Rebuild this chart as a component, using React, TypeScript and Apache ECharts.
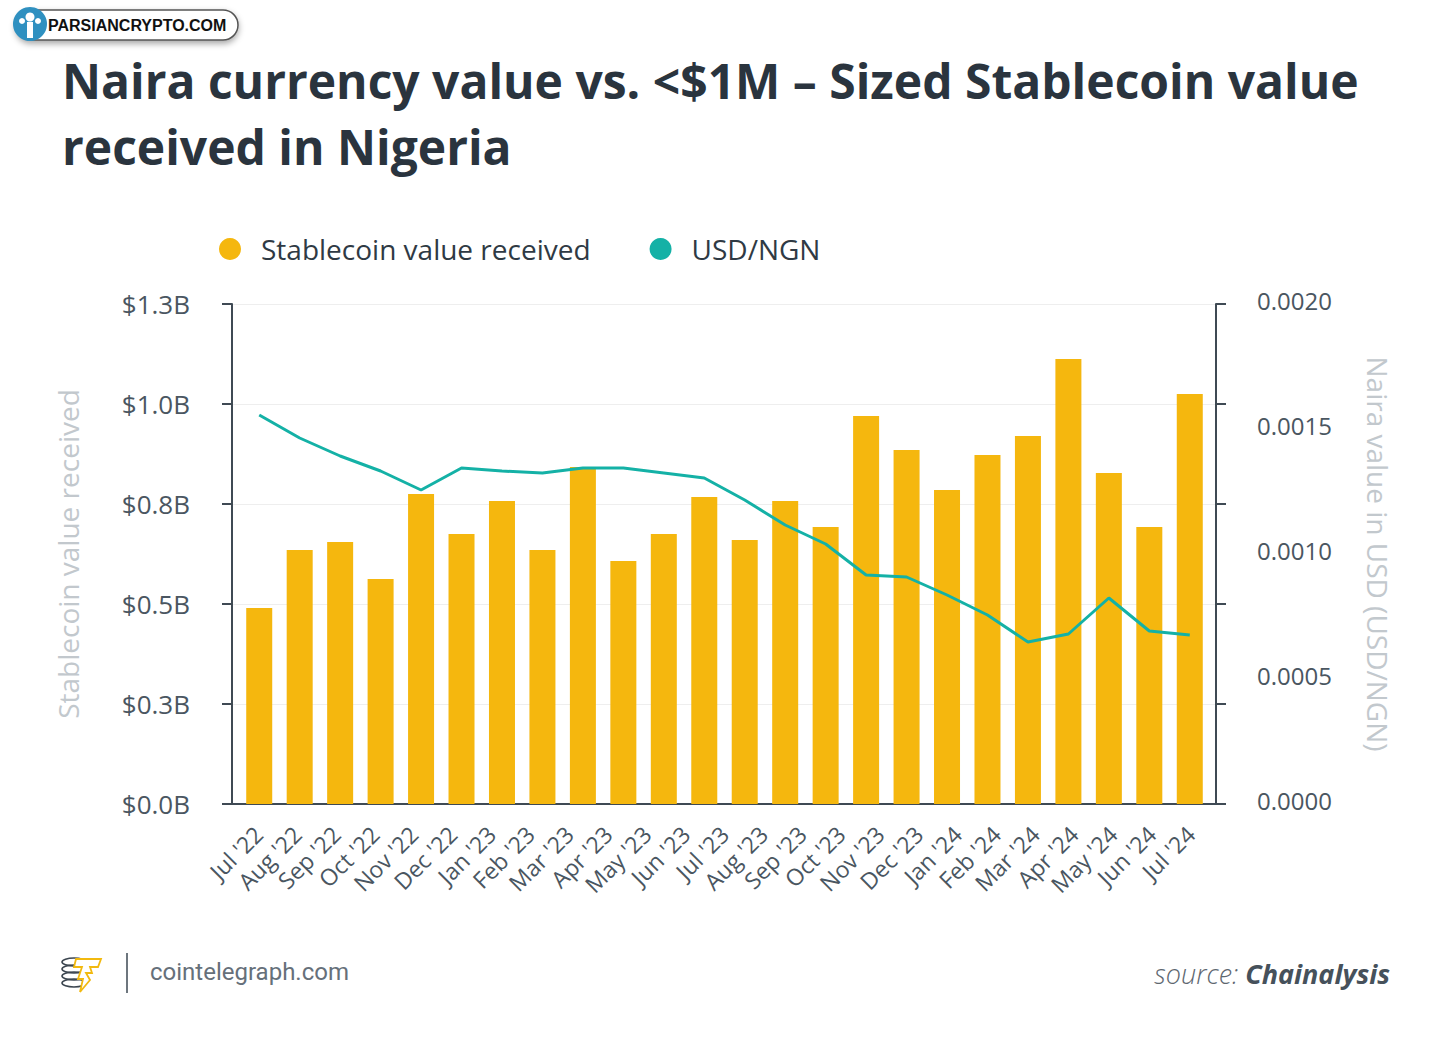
import React, { useEffect, useRef } from "react";
import * as echarts from "echarts";

const months = [
  "Jul '22", "Aug '22", "Sep '22", "Oct '22", "Nov '22", "Dec '22",
  "Jan '23", "Feb '23", "Mar '23", "Apr '23", "May '23", "Jun '23",
  "Jul '23", "Aug '23", "Sep '23", "Oct '23", "Nov '23", "Dec '23",
  "Jan '24", "Feb '24", "Mar '24", "Apr '24", "May '24", "Jun '24", "Jul '24",
];
// 24 bars/points drawn (the source labels 25 months)
const dataMonths = months.slice(0, 24);

const stablecoinValue = [
  0.49, 0.635, 0.655, 0.5625, 0.775, 0.675, 0.7575, 0.635, 0.8425, 0.6075,
  0.675, 0.7675, 0.66, 0.7575, 0.6925, 0.97, 0.885, 0.785, 0.8725, 0.92,
  1.1125, 0.8275, 0.6925, 1.025,
];

const usdNgn = [
  0.001556, 0.001464, 0.001392, 0.001332, 0.001256, 0.001344, 0.001332,
  0.001324, 0.001344, 0.001344, 0.001324, 0.001304, 0.001216, 0.001116,
  0.00104, 0.000916, 0.000908, 0.000836, 0.000756, 0.000648, 0.00068,
  0.000824, 0.000692, 0.000676,
];

const leftTickLabels = ["$0.0B", "$0.3B", "$0.5B", "$0.8B", "$1.0B", "$1.3B"];
const rightTickLabels = ["0.0000", "0.0005", "0.0010", "0.0015", "0.0020"];

const FONT = "'Open Sans', 'Noto Sans', sans-serif";
const AXIS_DARK = "#3f4a54";
const LABEL = "#4a5661";
const NAME_GRAY = "#c2c8cd";
const BAR = "#F5B70E";
const TEAL = "#14B1A6";

export default function App() {
  const ref = useRef<HTMLDivElement>(null);

  useEffect(() => {
    document.body.style.margin = "0";
    if (!ref.current) return;
    const chart = echarts.init(ref.current, undefined, { renderer: "svg" });

    const option: any = {
      animation: false,
      backgroundColor: "#ffffff",
      title: {
        text: "Naira currency value vs. <$1M – Sized Stablecoin value\nreceived in Nigeria",
        left: 57,
        top: 42,
        textStyle: {
          fontFamily: FONT,
          fontSize: 48,
          fontWeight: "bold",
          color: "#2a343e",
          lineHeight: 66,
        },
      },
      legend: {
        left: 214,
        top: 230,
        icon: "circle",
        itemWidth: 22,
        itemHeight: 22,
        itemGap: 59,
        textStyle: { fontFamily: FONT, fontSize: 28, color: "#2f3a44", padding: [0, 0, 0, 15] },
        data: ["Stablecoin value received", "USD/NGN"],
      },
      grid: [
        { left: 232, right: 234, top: 304, bottom: 249, containLabel: false },
        { left: 239, right: 240, top: 304, bottom: 249, containLabel: false },
      ],
      xAxis: [
        {
          gridIndex: 0,
          type: "category",
          data: dataMonths,
          boundaryGap: true,
          axisLine: { show: true, lineStyle: { color: AXIS_DARK, width: 2 } },
          axisTick: { show: false },
          axisLabel: { show: false },
          splitLine: { show: false },
        },
        {
          gridIndex: 1,
          type: "category",
          data: dataMonths,
          boundaryGap: true,
          show: false,
        },
        {
          gridIndex: 1,
          type: "category",
          data: months,
          boundaryGap: true,
          position: "bottom",
          axisLine: { show: false },
          axisTick: { show: false },
          axisLabel: {
            rotate: 45,
            margin: 26,
            fontFamily: FONT,
            fontSize: 23,
            color: LABEL,
            interval: 0,
          },
          splitLine: { show: false },
        },
      ],
      yAxis: [
        {
          gridIndex: 0,
          type: "value",
          min: 0,
          max: 1.25,
          interval: 0.25,
          position: "left",
          name: "Stablecoin value received",
          nameLocation: "middle",
          nameRotate: 90,
          nameGap: 150,
          nameTextStyle: { fontFamily: FONT, fontSize: 28, color: NAME_GRAY },
          axisLine: { show: true, lineStyle: { color: AXIS_DARK, width: 2 } },
          axisTick: { show: true, inside: false, length: 10, lineStyle: { color: AXIS_DARK, width: 2 } },
          axisLabel: {
            margin: 42,
            fontFamily: FONT,
            fontSize: 26,
            color: LABEL,
            formatter: (v: number) => leftTickLabels[Math.round(v / 0.25)] ?? "",
          },
          splitLine: { show: true, lineStyle: { color: "#eeeeee", width: 1 } },
        },
        {
          gridIndex: 0,
          type: "value",
          min: 0,
          max: 0.002,
          interval: 0.0005,
          position: "right",
          name: "Naira value in USD (USD/NGN)",
          nameLocation: "middle",
          nameRotate: -90,
          nameGap: 148,
          nameTextStyle: { fontFamily: FONT, fontSize: 28, color: NAME_GRAY },
          axisLine: { show: false },
          axisTick: { show: false },
          axisLabel: {
            margin: 41,
            formatter: (v: number) => "{r|" + (rightTickLabels[Math.round(v / 0.0005)] ?? "") + "}",
            rich: {
              r: {
                fontFamily: FONT,
                fontSize: 24,
                color: LABEL,
                padding: [0, 0, 8, 0],
              },
            },
          },
          splitLine: { show: false },
        },
        {
          gridIndex: 0,
          type: "value",
          min: 0,
          max: 1.25,
          interval: 0.25,
          position: "right",
          axisLine: { show: true, lineStyle: { color: AXIS_DARK, width: 2 } },
          axisTick: { show: true, inside: false, length: 10, lineStyle: { color: AXIS_DARK, width: 2 } },
          axisLabel: { show: false },
          splitLine: { show: false },
        },
        {
          gridIndex: 1,
          type: "value",
          min: 0,
          max: 1.25,
          show: false,
        },
        {
          gridIndex: 1,
          type: "value",
          min: 0,
          max: 0.002,
          show: false,
        },
      ],
      series: [
        {
          name: "Stablecoin value received",
          type: "bar",
          xAxisIndex: 1,
          yAxisIndex: 3,
          data: stablecoinValue,
          barWidth: 26,
          itemStyle: { color: BAR },
        },
        {
          name: "USD/NGN",
          type: "line",
          xAxisIndex: 1,
          yAxisIndex: 4,
          data: usdNgn,
          symbol: "none",
          lineStyle: { color: TEAL, width: 3 },
          itemStyle: { color: TEAL },
        },
      ],
      graphic: [
        // Parsiancrypto badge
        {
          type: "rect",
          shape: { x: 16, y: 10, width: 222, height: 30, r: 15 },
          style: {
            fill: "#ffffff",
            stroke: "#555555",
            lineWidth: 1.5,
            shadowBlur: 6,
            shadowColor: "rgba(0,0,0,0.35)",
            shadowOffsetY: 3,
          },
        },
        {
          type: "circle",
          shape: { cx: 30, cy: 24, r: 17 },
          style: { fill: "#2f90c0" },
        },
        { type: "rect", shape: { x: 27, y: 22, width: 6, height: 16 }, style: { fill: "#ffffff" } },
        { type: "circle", shape: { cx: 30, cy: 17, r: 4.5 }, style: { fill: "#ffffff" } },
        { type: "circle", shape: { cx: 22, cy: 21, r: 3 }, style: { fill: "#ffffff" } },
        { type: "circle", shape: { cx: 38, cy: 21, r: 3 }, style: { fill: "#ffffff" } },
        {
          type: "text",
          x: 48,
          y: 25,
          style: {
            text: "PARSIANCRYPTO.COM",
            fontFamily: "'Liberation Sans', Arial, sans-serif",
            fontWeight: "bold",
            fontSize: 16,
            fill: "#111111",
            textVerticalAlign: "middle",
          },
        },
        // Cointelegraph footer
        { type: "ellipse", shape: { cx: 74, cy: 962, rx: 12, ry: 4 }, style: { fill: "none", stroke: "#3c4650", lineWidth: 1.6 } },
        { type: "ellipse", shape: { cx: 74, cy: 969, rx: 12, ry: 4 }, style: { fill: "none", stroke: "#3c4650", lineWidth: 1.6 } },
        { type: "ellipse", shape: { cx: 74, cy: 976, rx: 12, ry: 4 }, style: { fill: "none", stroke: "#3c4650", lineWidth: 1.6 } },
        { type: "ellipse", shape: { cx: 74, cy: 983, rx: 12, ry: 4 }, style: { fill: "none", stroke: "#3c4650", lineWidth: 1.6 } },
        {
          type: "polygon",
          shape: {
            points: [
              [76, 959], [101, 959], [98, 967], [90, 967], [92, 973], [86, 973], [90, 980], [80, 992], [83, 979], [78, 979], [82, 967], [74, 967],
            ],
          },
          style: { fill: "#ffffff", stroke: "#F2B90F", lineWidth: 1.8 },
        },
        { type: "line", shape: { x1: 127, y1: 953, x2: 127, y2: 993 }, style: { stroke: "#6d767e", lineWidth: 2 } },
        {
          type: "text",
          x: 150,
          y: 972,
          style: {
            text: "cointelegraph.com",
            fontFamily: "Roboto, 'Open Sans', sans-serif",
            fontSize: 24,
            fill: "#66707a",
            textVerticalAlign: "middle",
          },
        },
        {
          type: "text",
          x: 1390,
          y: 973,
          style: {
            text: "{a|source: }{b|Chainalysis}",
            textAlign: "right",
            textVerticalAlign: "middle",
            rich: {
              a: { fontFamily: FONT, fontSize: 27, fontStyle: "italic", fontWeight: 300, fill: "#5e6770" },
              b: { fontFamily: FONT, fontSize: 27, fontStyle: "italic", fontWeight: "bold", fill: "#46515b" },
            },
          },
        },
      ],
    };

    chart.setOption(option);
    return () => chart.dispose();
  }, []);

  return <div ref={ref} style={{ width: 1450, height: 1053 }} />;
}
